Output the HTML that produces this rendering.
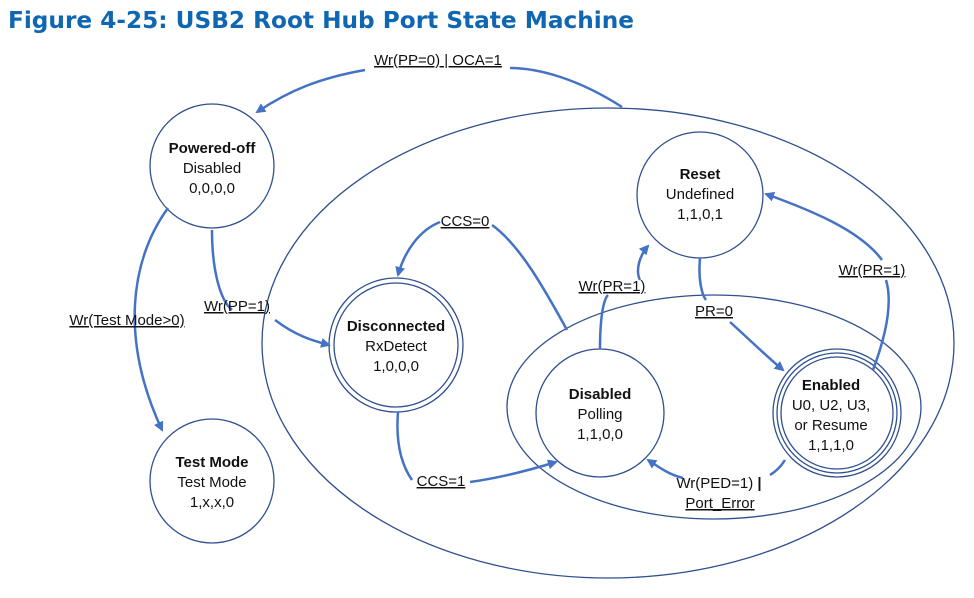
<!DOCTYPE html>
<html><head><meta charset="utf-8"><style>
body{margin:0;background:#fff;width:974px;height:593px;overflow:hidden}
.t{font-family:"Liberation Sans",Arial,Helvetica,sans-serif;fill:#111}
</style></head><body>
<svg width="974" height="593" viewBox="0 0 974 593" xmlns="http://www.w3.org/2000/svg">
<defs><marker id="a" markerWidth="10" markerHeight="10" refX="8" refY="5" orient="auto" markerUnits="userSpaceOnUse"><path d="M0,0 L10,5 L0,10 z" fill="#4472c4"/></marker></defs>
<text x="8" y="28" font-size="23" font-weight="bold" font-family="DejaVu Sans, sans-serif" fill="#0f67b1" textLength="626" lengthAdjust="spacingAndGlyphs">Figure 4-25: USB2 Root Hub Port State Machine</text>
<g fill="none" stroke="#2f4f8f" stroke-width="1.3">
<ellipse cx="608" cy="343" rx="346" ry="235"/>
<ellipse cx="714" cy="407" rx="207" ry="112"/>
<circle cx="212" cy="166" r="62" fill="#fff"/>
<circle cx="212" cy="481" r="62" fill="#fff"/>
<circle cx="396" cy="345" r="67" fill="#fff"/><circle cx="396" cy="345" r="62"/>
<circle cx="700" cy="195" r="63" fill="#fff"/>
<circle cx="600" cy="413" r="64" fill="#fff"/>
<circle cx="837" cy="413" r="64" fill="#fff"/><circle cx="837" cy="413" r="60"/><circle cx="837" cy="413" r="56"/>
</g>
<g fill="none" stroke="#4472c4" stroke-width="2.5" marker-end="url(#a)">
<path d="M622,107 C580,80 540,68 510,68 M365,70 C320,78 290,90 257,112"/>
<path d="M168,208 C130,260 120,340 162,430"/>
<path d="M212,230 C212,270 220,300 232,310 M275,320 C295,335 310,340 329,345"/>
<path d="M567,330 C545,290 520,245 492,225 M440,222 C420,230 405,250 398,275"/>
<path d="M398,412 C395,450 405,470 412,480 M470,482 C500,478 530,470 556,462"/>
<path d="M600,349 C600,320 603,300 608,295 M640,280 C635,270 640,255 648,246"/>
<path d="M700,258 C698,280 702,295 706,300 M730,322 C750,340 765,355 783,370"/>
<path d="M873,370 C888,330 892,300 886,280 M882,260 C860,230 810,210 766,194"/>
<path d="M785,460 C780,468 775,472 770,475 M683,478 C670,475 660,468 648,460"/>
</g>
<g class="t" font-size="15" text-anchor="middle" font-family="Liberation Sans, Arial, sans-serif">
<text x="438" y="65" text-decoration="underline">Wr(PP=0) | OCA=1</text>
<text x="127" y="325" text-decoration="underline">Wr(Test Mode&gt;0)</text>
<text x="237" y="311" text-decoration="underline">Wr(PP=1)</text>
<text x="465" y="226" text-decoration="underline">CCS=0</text>
<text x="441" y="486" text-decoration="underline">CCS=1</text>
<text x="612" y="291" text-decoration="underline">Wr(PR=1)</text>
<text x="714" y="316" text-decoration="underline">PR=0</text>
<text x="872" y="275" text-decoration="underline">Wr(PR=1)</text>
<text x="719" y="488">Wr(PED=1) <tspan font-weight="bold">|</tspan></text>
<text x="720" y="508" text-decoration="underline">Port_Error</text>
<text x="212" y="153" font-weight="bold">Powered-off</text><text x="212" y="173">Disabled</text><text x="212" y="193">0,0,0,0</text>
<text x="212" y="467" font-weight="bold">Test Mode</text><text x="212" y="487">Test  Mode</text><text x="212" y="507">1,x,x,0</text>
<text x="396" y="331" font-weight="bold">Disconnected</text><text x="396" y="351">RxDetect</text><text x="396" y="371">1,0,0,0</text>
<text x="700" y="179" font-weight="bold">Reset</text><text x="700" y="199">Undefined</text><text x="700" y="219">1,1,0,1</text>
<text x="600" y="399" font-weight="bold">Disabled</text><text x="600" y="419">Polling</text><text x="600" y="439">1,1,0,0</text>
<text x="831" y="390" font-weight="bold">Enabled</text><text x="831" y="410">U0, U2, U3,</text><text x="831" y="430">or Resume</text><text x="831" y="450">1,1,1,0</text>
</g>
</svg>
</body></html>
